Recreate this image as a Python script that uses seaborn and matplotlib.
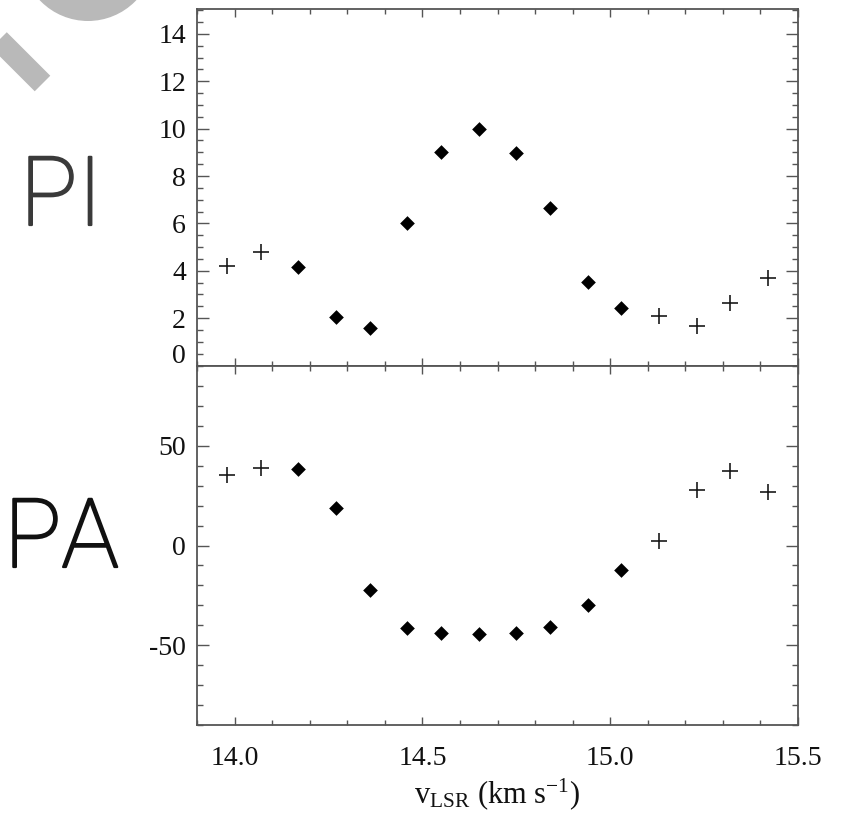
import matplotlib
matplotlib.use("Agg")
import matplotlib.pyplot as plt
import matplotlib.patheffects as pe
import pandas as pd
import seaborn as sns
from matplotlib.patches import Circle
from matplotlib.lines import Line2D
from matplotlib.ticker import MultipleLocator, FixedLocator

# LSR velocity of each maser channel (km/s)
v_lsr = [13.98, 14.07, 14.17, 14.27, 14.36, 14.46, 14.55, 14.65,
         14.75, 14.84, 14.94, 15.03, 15.13, 15.23, 15.32, 15.42]
# polarized intensity per channel
pol_int = [4.19, 4.78, 4.15, 2.04, 1.58, 6.0, 9.03, 10.0,
           8.99, 6.67, 3.52, 2.42, 2.08, 1.66, 2.63, 3.68]
# polarization position angle per channel (deg)
pol_ang = [35.4, 38.9, 38.4, 18.7, -22.2, -41.4, -43.9, -44.4,
           -43.9, -40.9, -29.8, -12.1, 2.5, 27.8, 37.4, 26.8]
# channel quality: solid diamonds = detections, crosses = weak channels
kind = ["weak", "weak", "det", "det", "det", "det", "det", "det",
        "det", "det", "det", "det", "weak", "weak", "weak", "weak"]

x_ticks = [14.0, 14.5, 15.0, 15.5]
pi_ticks = [0, 2, 4, 6, 8, 10, 12, 14]
pa_ticks = [-50, 0, 50]

sns.set_style("ticks")
plt.rcParams["font.family"] = ["Liberation Serif", "DejaVu Serif"]
plt.rcParams["mathtext.fontset"] = "custom"
plt.rcParams["mathtext.rm"] = "Liberation Serif"
plt.rcParams["mathtext.it"] = "Liberation Serif:italic"
plt.rcParams["axes.unicode_minus"] = False

df = pd.DataFrame({"v": v_lsr, "PI": pol_int, "PA": pol_ang, "kind": kind})

W, H = 856, 813
fig = plt.figure(figsize=(W / 100, H / 100), dpi=100)

# overlay in pixel units for the side labels and the grey emblem
deco = fig.add_axes([0, 0, 1, 1], zorder=0)
deco.set_xlim(0, W)
deco.set_ylim(H, 0)
deco.axis("off")
grey = "#b9b9b9"
deco.add_patch(Circle((88, -45.5), 66.5, color=grey, lw=0))
deco.add_line(Line2D([-20, 42.5], [21, 83.5], color=grey, lw=22 * 0.72,
                     solid_capstyle="butt"))
side_font = ["Roboto", "DejaVu Sans"]
for txt, x, y, c in [("PI", 20, 225, "#3a3a3a"), ("PA", 4, 567, "#111111")]:
    deco.text(x, y, txt, family=side_font, weight="light", fontsize=69,
              color=c, ha="left", va="baseline",
              path_effects=[pe.withStroke(linewidth=1.6, foreground=c)])

L, R = 197 / W, 798 / W
ax1 = fig.add_axes([L, 1 - 366 / H, R - L, (366 - 9) / H], zorder=2)
ax2 = fig.add_axes([L, 1 - 725 / H, R - L, (725 - 366) / H], zorder=2)

tick_col = "#555555"
lab_col = "#111111"
FS = 20


def draw(ax, col):
    det = df[df["kind"] == "det"]
    weak = df[df["kind"] == "weak"]
    sns.scatterplot(data=det, x="v", y=col, marker="D", s=56, color="black",
                    linewidth=0, ax=ax, legend=False, zorder=3)
    sns.scatterplot(data=weak, x="v", y=col, marker="+", s=130,
                    color="#1a1a1a", linewidth=1.2, ax=ax, legend=False,
                    zorder=3)
    ax.set_xlim(13.9, 15.5)
    ax.set_xlabel("")
    ax.set_ylabel("")
    ax.xaxis.set_major_locator(FixedLocator(x_ticks))
    ax.xaxis.set_minor_locator(MultipleLocator(0.1))
    for s in ax.spines.values():
        s.set_color(tick_col)
        s.set_linewidth(1.3)
    ax.tick_params(which="both", direction="in", top=True, right=True,
                   color=tick_col, width=1.0, labelsize=FS,
                   labelcolor=lab_col)
    ax.tick_params(axis="y", which="major", length=8.5, pad=8)
    ax.tick_params(axis="y", which="minor", length=4.5)
    ax.tick_params(axis="x", which="major", length=6, pad=15)
    ax.tick_params(axis="x", which="minor", length=3.5)


draw(ax1, "PI")
ax1.set_ylim(-0.02, 15.05)
ax1.set_yticks(pi_ticks)
ax1.set_yticklabels([""] + [str(t) for t in pi_ticks[1:]])
ax1.yaxis.set_minor_locator(MultipleLocator(0.5))
ax1.tick_params(labelbottom=False)
# the zero label sits a little above its tick, clear of the panel divide
ax1.annotate("0", xy=(0, 0), xycoords=("axes fraction", "data"),
             xytext=(-11, 9), textcoords="offset pixels", ha="right",
             va="center", fontsize=FS, color=lab_col)

draw(ax2, "PA")
ax2.set_ylim(-90, 90)
ax2.set_yticks(pa_ticks)
ax2.yaxis.set_minor_locator(MultipleLocator(10))
ax2.set_xticklabels([f"{t:.1f}" for t in x_ticks])
ax2.set_xlabel(r"v$_{\rm LSR}$ (km s$^{-1}$)", fontsize=22,
               color=lab_col, labelpad=4)

fig.savefig("out.png", dpi=100)
